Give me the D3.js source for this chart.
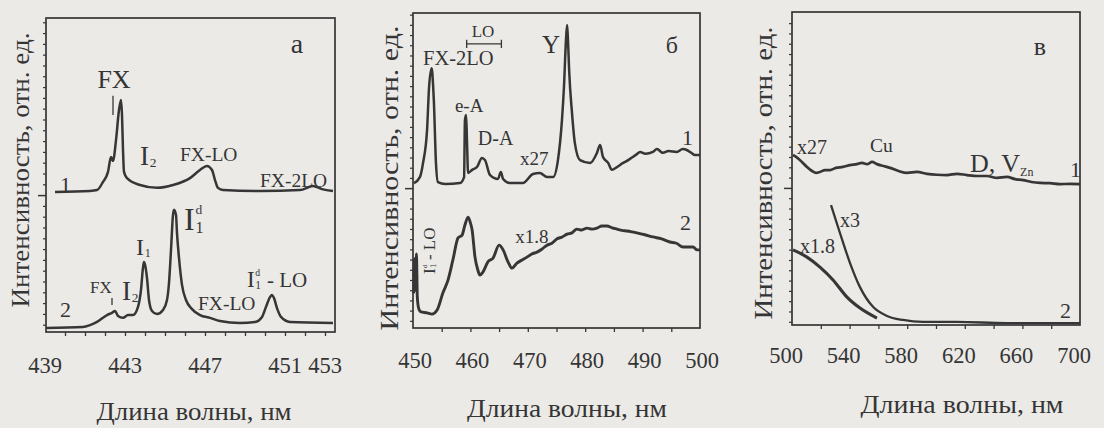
<!DOCTYPE html>
<html>
<head>
<meta charset="utf-8">
<style>
  body { margin: 0; background: #ebeae7; }
  svg { display: block; }
  text { font-family: "Liberation Serif", "DejaVu Serif", serif; fill: #353535; }
</style>
<script src="https://d3js.org/d3.v7.min.js"></script>
</head>
<body>
<script>
// --- данные, панель а (439-453 нм) ---
const aTickLabels = [439, 443, 447, 451, 453];
const aCurve1 = [
  [439.5,44.6],[441.25,44.9],[441.6,45.2],[441.9,47.8],[442.15,51.0],[442.3,55.7],[442.4,54.5],
  [442.55,61.1],[442.7,70.7],[442.8,73.9],[442.85,69.1],[442.9,58.0],[442.95,51.0],[443.1,49.0],
  [443.75,46.8],[444.6,45.9],[445.4,46.8],[446.25,49.0],[446.75,51.6],[447.1,52.9],[447.35,51.6],
  [447.5,48.4],[447.65,45.9],[447.9,45.2],[449.75,44.9],[451.75,45.2],[452.4,46.5],[452.85,45.5],[453.4,44.9]
];
const aCurve2 = [
  [439.05,1.3],[440.9,1.6],[441.25,2.2],[441.6,3.2],[442.1,5.4],[442.35,6.1],[442.5,6.7],[442.65,5.1],
  [442.9,4.5],[443.15,5.4],[443.4,5.4],[443.65,8.0],[443.8,13.4],[443.9,20.5],[443.95,22.3],[444.0,21.5],
  [444.1,17.2],[444.2,10.2],[444.35,6.7],[444.6,5.7],[444.9,7.0],[445.1,10.2],[445.2,15.6],[445.3,26.1],
  [445.4,37.3],[445.45,38.9],[445.55,37.3],[445.6,31.5],[445.7,23.6],[445.85,15.0],[446.05,10.2],
  [446.35,7.3],[446.75,5.4],[447.25,4.5],[447.75,3.5],[448.75,2.9],[449.5,3.2],[449.85,4.8],[450.05,8.0],
  [450.25,11.1],[450.35,11.8],[450.45,10.8],[450.6,7.6],[450.8,4.8],[451.25,3.2],[453.4,2.9]
];

// --- панель б (450-500 нм) ---
const bTickLabels = [450, 460, 470, 480, 490, 500];
const bCurve1 = [
  [450.17,46.0],[451.2,47.9],[451.75,52.4],[452.45,62.9],[452.8,76.5],[453.25,82.5],[453.5,77.1],
  [453.65,71.4],[454.0,52.4],[454.35,46.3],[455.6,45.7],[458.2,46.0],[458.9,47.9],[459.05,66.0],
  [459.25,67.6],[459.4,59.7],[459.6,49.2],[460.3,50.2],[461.15,51.1],[462.0,54.0],[462.55,53.3],
  [463.4,48.6],[464.8,47.3],[465.3,49.5],[465.7,47.3],[466.9,46.0],[469.15,46.0],[470.9,48.9],
  [472.1,49.2],[473.35,47.9],[474.4,47.9],[475.25,53.3],[475.95,66.0],[476.3,76.5],[476.65,91.4],
  [476.85,96.2],[477.0,91.4],[477.2,81.9],[477.7,68.3],[478.2,58.7],[479.1,53.3],[480.85,52.4],
  [482.05,55.6],[482.6,58.1],[483.1,54.3],[484.0,52.4],[484.65,50.2],[485.55,51.1],[486.6,52.4],
  [487.5,53.3],[488.3,54.3],[489.0,55.2],[489.55,55.9],[490.5,55.3],[491.8,55.9],[492.5,56.8],
  [493.55,55.6],[494.5,56.2],[495.95,55.9],[497.0,56.8],[497.7,56.5],[498.5,55.6],[499.1,54.9],[500,54.9]
];
const bCurve2 = [
  [450.1,11],[450.3,22],[450.45,12],[450.6,23.5],[450.75,10],[450.95,6.5],[451.3,5.2],[452.45,4.8],
  [453.3,4.4],[454.2,5.7],[455.2,11.1],[456.1,15.2],[456.95,21.6],[457.85,28.6],[458.55,29.5],
  [459.05,32.7],[459.6,35.2],[459.95,33.7],[460.3,31.1],[460.8,22.5],[461.3,18.4],[461.65,16.8],
  [462.2,17.8],[463.05,21.0],[463.95,22.2],[465.0,26.3],[465.7,24.8],[466.55,21.0],[467.25,19.0],
  [468.1,20.6],[469.0,21.6],[469.85,22.5],[470.7,23.5],[471.6,24.1],[472.5,25.1],[473.35,26.3],
  [474.2,26.9],[475.1,28.3],[476.0,28.9],[476.85,29.8],[477.7,30.2],[478.55,31.4],[479.4,31.1],
  [480.3,31.7],[481.2,31.4],[482.05,31.7],[482.9,32.4],[483.8,32.4],[484.7,31.8],[485.55,31.4],
  [486.4,31.0],[487.3,30.8],[488.2,30.5],[489.0,30.2],[490.4,29.6],[491.8,28.9],[493.3,28.3],
  [494.75,27.3],[495.9,26.9],[497.05,25.7],[498.0,25.7],[498.8,25.7],[499.5,24.8],[500,24.8]
];

// --- панель в (500-700 нм) ---
const cTickLabels = [500, 540, 580, 620, 660, 700];
const cCurve1 = [
  [500.7,54.3],[503.5,53.5],[506.9,52.1],[510.4,50.5],[513.9,49.2],[516.7,48.6],[519.4,48.9],
  [522.9,49.5],[526.4,49.5],[530.5,50.2],[535.4,50.5],[540.3,51.1],[545.1,51.4],[548.6,51.8],
  [552.1,51.4],[555.6,52.1],[559.0,51.4],[563.5,50.8],[568.1,50.2],[574,49.2],[579.9,48.6],
  [586.8,48.9],[593.75,48.3],[600.7,48.0],[607.6,47.9],[614.6,48.3],[621.5,47.9],[628.5,47.6],
  [635.4,47.6],[642.4,47.0],[649.3,47.3],[654.9,46.6],[660.4,46.3],[666.3,45.7],[672.2,45.4],
  [679.2,45.3],[686.1,45.0],[693,45.1],[700,45.0]
];
const cCurve2x18 = [
  [500.7,24.0],[510.4,21.7],[519.4,18.5],[528.5,14.4],[538.2,8.9],[547.2,5.4],[559.0,2.2]
];
const cCurve2x3 = [
  [527.1,38.3],[533.3,29.4],[540.3,19.8],[547.2,12.1],[556.25,5.8],[566.0,2.9],[577.1,1.6],
  [591.0,1.0],[614.6,1.0],[649.3,0.6],[700,0.6]
];

const X_TITLE = "Длина волны, нм";
const Y_TITLE = "Интенсивность, отн. ед.";
const INK = "#363636";

const svg = d3.select("body").append("svg").attr("width", 1104).attr("height", 428);

function panel(cfg) {
  const x = d3.scaleLinear().domain(cfg.xDomain).range([cfg.left, cfg.right]);
  const y = d3.scaleLinear().domain([0, 100]).range([cfg.bottom, cfg.top]);
  const g = svg.append("g");

  g.append("rect")
    .attr("x", cfg.left).attr("y", cfg.top)
    .attr("width", cfg.right - cfg.left).attr("height", cfg.bottom - cfg.top)
    .attr("fill", "none").attr("stroke", INK).attr("stroke-width", 1.7);

  g.append("g")
    .attr("transform", `translate(0,${cfg.bottom})`)
    .attr("color", INK)
    .call(d3.axisBottom(x).tickValues(cfg.minorX).tickSize(4).tickFormat(""))
    .call(a => a.select(".domain").remove())
    .selectAll("line").attr("stroke-width", 1.3);

  const yt = [];
  for (let v = cfg.yBig - cfg.yStep; v > 0.5; v -= cfg.yStep) yt.push(v);
  for (let v = cfg.yBig + cfg.yStep; v < 99.5; v += cfg.yStep) yt.push(v);
  g.append("g")
    .attr("transform", `translate(${cfg.left},0)`)
    .attr("color", INK)
    .call(d3.axisLeft(y).tickValues(yt).tickSize(3).tickFormat(""))
    .call(a => a.select(".domain").remove())
    .selectAll("line").attr("stroke-width", 1.2);
  g.append("g")
    .attr("transform", `translate(${cfg.left},0)`)
    .attr("color", INK)
    .call(d3.axisLeft(y).tickValues([cfg.yBig]).tickSize(8).tickFormat(""))
    .call(a => a.select(".domain").remove())
    .selectAll("line").attr("stroke-width", 1.5);

  g.selectAll("text.tick-label")
    .data(cfg.labels)
    .join("text")
    .attr("class", "tick-label")
    .attr("x", d => x(d) + cfg.labelDx)
    .attr("y", cfg.labelY)
    .attr("text-anchor", "middle")
    .attr("font-size", 22.5)
    .text(d => d);

  g.append("text")
    .attr("x", cfg.titleX).attr("y", cfg.titleY)
    .attr("text-anchor", "middle")
    .attr("font-size", 26)
    .attr("textLength", cfg.titleLen)
    .attr("lengthAdjust", "spacingAndGlyphs")
    .text(X_TITLE);

  g.append("text")
    .attr("transform", `translate(${cfg.yTitleX},${cfg.yTitleY}) rotate(-90)`)
    .attr("text-anchor", "middle")
    .attr("font-size", 25)
    .attr("textLength", cfg.yTitleLen)
    .attr("lengthAdjust", "spacingAndGlyphs")
    .text(Y_TITLE);

  const line = d3.line().x(d => x(d[0])).y(d => y(d[1])).curve(d3.curveMonotoneX);
  cfg.curves.forEach(c => {
    g.append("path").datum(c.data).attr("d", line)
      .attr("fill", "none").attr("stroke", INK)
      .attr("stroke-width", c.w).attr("stroke-linejoin", "round");
  });
  return { g, x, y };
}

function label(p, t, xv, yv, size, anchor) {
  return p.g.append("text")
    .attr("x", p.x(xv)).attr("y", p.y(yv))
    .attr("font-size", size)
    .attr("text-anchor", anchor || "start")
    .text(t);
}

// буква I с нижним и верхним индексом
function iLabel(g, px, py, size, sub, sup, tail, tailDx, tailSize) {
  g.append("text").attr("x", px).attr("y", py).attr("font-size", size).text("I");
  const sx = px + size * 0.36;
  if (sub) g.append("text").attr("x", sx).attr("y", py + size * 0.08).attr("font-size", size * 0.5).text(sub);
  if (sup) g.append("text").attr("x", sx).attr("y", py - size * 0.5).attr("font-size", size * 0.42).text(sup);
  if (tail) g.append("text").attr("x", px + tailDx).attr("y", py).attr("font-size", tailSize).text(tail);
}

function marker(p, xv, y0, y1) {
  p.g.append("line")
    .attr("x1", p.x(xv)).attr("x2", p.x(xv))
    .attr("y1", p.y(y0)).attr("y2", p.y(y1))
    .attr("stroke", INK).attr("stroke-width", 1.3);
}

// ---------- а ----------
const pa = panel({
  left: 46, right: 335, top: 18, bottom: 332,
  xDomain: [439.05, 453.5], minorX: d3.range(440, 454, 1),
  labels: aTickLabels, labelDx: 0, labelY: 373,
  yBig: 43.6, yStep: 3.44,
  titleX: 194, titleY: 420, titleLen: 195,
  yTitleX: 29, yTitleY: 170, yTitleLen: 275,
  curves: [{ data: aCurve1, w: 2.5 }, { data: aCurve2, w: 2.5 }]
});
label(pa, "а", 451.6, 88.9, 28, "middle");
label(pa, "FX", 442.45, 77.7, 26, "middle");
marker(pa, 442.4, 75.2, 69.1);
iLabel(pa.g, pa.x(443.75), pa.y(53.2), 27, "2");
label(pa, "FX-LO", 445.75, 54.5, 19.5);
label(pa, "FX-2LO", 449.75, 46.2, 19.5);
label(pa, "1", 439.75, 44.6, 22);
label(pa, "2", 439.75, 4.8, 22);
iLabel(pa.g, pa.x(445.95), pa.y(32.5), 32, "1", "d");
iLabel(pa.g, pa.x(443.55), pa.y(24.6), 24, "1");
label(pa, "FX", 441.25, 12.4, 17);
marker(pa, 442.35, 10.8, 8.6);
iLabel(pa.g, pa.x(442.85), pa.y(10.2), 27, "2");
label(pa, "FX-LO", 446.65, 7.0, 19.5);
iLabel(pa.g, pa.x(449.1), pa.y(14.3), 23, "1", "d", "- LO", 20, 21);

// ---------- б ----------
const pb = panel({
  left: 413, right: 700, top: 13, bottom: 328,
  xDomain: [450, 500], minorX: d3.range(455, 500, 5),
  labels: bTickLabels, labelDx: 2, labelY: 368,
  yBig: 44.4, yStep: 3.24,
  titleX: 567, titleY: 417, titleLen: 200,
  yTitleX: 398, yTitleY: 178, yTitleLen: 305,
  curves: [{ data: bCurve1, w: 2.5 }, { data: bCurve2, w: 2.9 }]
});
label(pb, "б", 495.1, 87.3, 24, "middle");
label(pb, "LO", 462.2, 92.4, 17, "middle");
pb.g.append("path")
  .attr("d", `M${pb.x(459.35)},${pb.y(91.5)}V${pb.y(88.9)}M${pb.x(459.35)},${pb.y(90.2)}H${pb.x(465.4)}M${pb.x(465.4)},${pb.y(91.5)}V${pb.y(88.9)}`)
  .attr("fill", "none").attr("stroke", INK).attr("stroke-width", 1.3);
label(pb, "Y", 474.05, 87.3, 25, "middle");
label(pb, "FX-2LO", 451.75, 83.5, 20.5);
label(pb, "e-A", 457.3, 68.6, 19);
label(pb, "D-A", 461.3, 58.1, 20);
label(pb, "x27", 468.65, 51.7, 19);
label(pb, "1", 496.85, 58.1, 22);
label(pb, "2", 496.5, 31.1, 22);
label(pb, "x1.8", 467.8, 27.0, 19);
const rot = pb.g.append("g").attr("transform", `translate(${pb.x(453.85)},${pb.y(25.7)}) rotate(-90)`);
iLabel(rot, -27, 0, 17, "1", "d", "- LO", 14, 17);

// ---------- в ----------
const pc = panel({
  left: 792, right: 1080, top: 12, bottom: 325,
  xDomain: [500, 700], minorX: d3.range(520, 700, 20),
  labels: cTickLabels, labelDx: -6, labelY: 363,
  yBig: 43.8, yStep: 3.29,
  titleX: 962, titleY: 413, titleLen: 203,
  yTitleX: 772, yTitleY: 173, yTitleLen: 293,
  curves: [{ data: cCurve1, w: 2.7 }, { data: cCurve2x18, w: 3.1 }, { data: cCurve2x3, w: 2.3 }]
});
label(pc, "в", 672.2, 86.3, 26, "middle");
label(pc, "x27", 503.5, 54.6, 20);
label(pc, "Cu", 554.2, 55.3, 19.5);
const dv = label(pc, "D, V", 623.6, 48.9, 26);
dv.append("tspan").attr("font-size", 12).attr("dy", 4).text("Zn");
label(pc, "1", 693, 47.3, 22);
label(pc, "x3", 533.3, 31.3, 20);
label(pc, "x1.8", 505.6, 23.0, 20);
label(pc, "2", 686.1, 2.2, 22);
</script>
</body>
</html>
